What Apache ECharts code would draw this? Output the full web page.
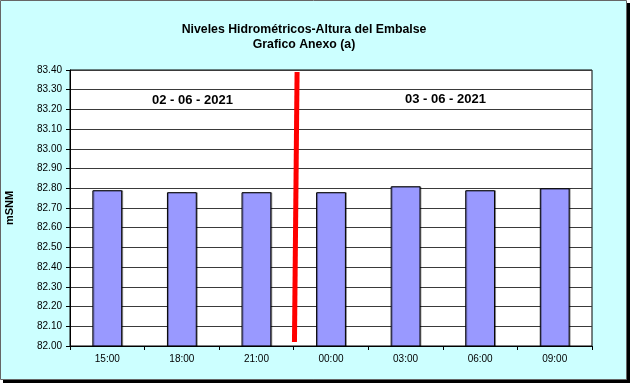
<!DOCTYPE html>
<html>
<head>
<meta charset="utf-8">
<script src="https://cdn.jsdelivr.net/npm/echarts@6/dist/echarts.min.js"></script>
<style>html,body{margin:0;padding:0;background:#fff;}#c{width:631px;height:384px;}</style>
</head>
<body>
<div id="c"></div>
<script>
const categories = ['15:00', '18:00', '21:00', '00:00', '03:00', '06:00', '09:00'];
const levels = [82.79, 82.78, 82.78, 82.78, 82.81, 82.79, 82.80];
const yTicks = { min: 82.0, max: 83.4, step: 0.1 };
const dayDivider = [[3.045, 83.39], [3.01, 82.02]];
const dayLabels = ['02 - 06 - 2021', '03 - 06 - 2021'];
const titleLines = ['Niveles Hidrométricos-Altura del Embalse', 'Grafico Anexo (a)'];

const chart = echarts.init(document.getElementById('c'), null, { renderer: 'canvas' });
const font = 'Arial, "Liberation Sans", sans-serif';
chart.setOption({
  backgroundColor: '#ffffff',
  animation: false,
  graphic: [
    { type: 'rect', z: -10, shape: { x: 3, y: 3, width: 627, height: 380 }, style: { fill: '#000' } },
    { type: 'rect', z: -9, shape: { x: 0.5, y: 0.5, width: 626, height: 379 }, style: { fill: '#CCFFFF', stroke: '#666', lineWidth: 1 } },
    { type: 'text', left: 152, top: 94, style: { text: dayLabels[0], font: 'bold 13px ' + font, fill: '#000' } },
    { type: 'text', left: 405, top: 93, style: { text: dayLabels[1], font: 'bold 13px ' + font, fill: '#000' } }
  ],
  title: {
    text: titleLines.join('\n'),
    left: 299, top: 17, textAlign: 'center',
    textStyle: { fontFamily: font, fontSize: 12.3, fontWeight: 'bold', color: '#000', lineHeight: 15 }
  },
  grid: { left: 70, right: 39, top: 70, bottom: 38, outerBoundsMode: 'none', containLabel: false, show: true, backgroundColor: '#fff', borderColor: '#000', borderWidth: 1 },
  xAxis: [
    {
      type: 'category', data: categories, boundaryGap: true,
      axisLine: { lineStyle: { color: '#000', width: 1 } },
      axisTick: { show: true, length: 4, lineStyle: { color: '#000' } },
      axisLabel: { color: '#000', fontFamily: font, fontSize: 10, margin: 8 }
    },
    { type: 'value', min: 0, max: 7, show: false }
  ],
  yAxis: {
    type: 'value', min: yTicks.min, max: yTicks.max, interval: yTicks.step,
    name: 'mSNM', nameLocation: 'middle', nameGap: 55, nameRotate: 90,
    nameTextStyle: { fontFamily: font, fontSize: 11, fontWeight: 'bold', color: '#000' },
    axisLine: { show: true, lineStyle: { color: '#000' } },
    axisTick: { show: true, length: 4, lineStyle: { color: '#000' } },
    axisLabel: { color: '#000', fontFamily: font, fontSize: 10, margin: 8, formatter: v => v.toFixed(2) },
    splitLine: { show: true, lineStyle: { color: '#3a3a3a', width: 1 } }
  },
  series: [
    {
      type: 'bar', data: levels, barWidth: '40%',
      itemStyle: { color: '#9999FF', borderColor: '#000', borderWidth: 1, shadowColor: 'rgba(0,0,0,0.35)', shadowOffsetX: 1, shadowOffsetY: 0 }
    },
    {
      type: 'line', xAxisIndex: 1, data: dayDivider, symbol: 'none',
      lineStyle: { color: '#FF0000', width: 5 }, z: 5
    }
  ]
});
</script>
</body>
</html>
